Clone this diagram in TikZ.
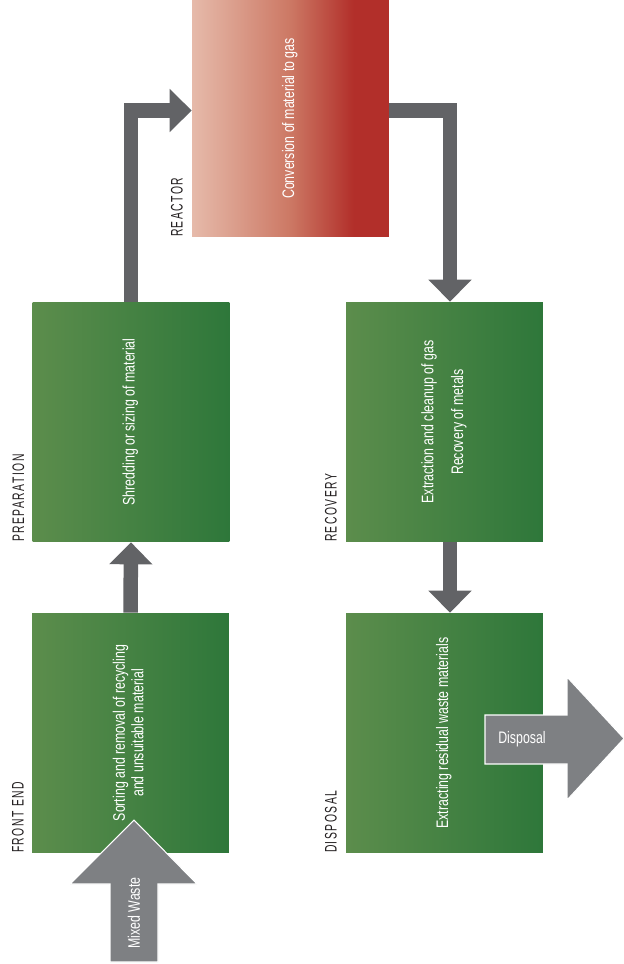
\documentclass[tikz,border=0pt]{standalone}
\usepackage{fontspec}
\usepackage{graphicx}
\usetikzlibrary{arrows.meta}
\newfontfamily\boxfont[FakeStretch=0.74]{Liberation Sans}
\newfontfamily\stagefont[FakeStretch=0.62,LetterSpace=9]{Liberation Sans}
\definecolor{greenlight}{RGB}{92,141,76}
\definecolor{greendark}{RGB}{46,119,58}
\definecolor{reactorlight}{RGB}{230,186,170}
\definecolor{reactormid}{RGB}{204,120,100}
\definecolor{reactordark}{RGB}{178,47,42}
\definecolor{flowgray}{RGB}{98,99,102}
\definecolor{biggray}{RGB}{126,128,131}
\definecolor{labelgray}{RGB}{35,31,32}
\pgfdeclarehorizontalshading{reactorshading}{100bp}{color(0bp)=(reactorlight); color(25bp)=(reactorlight); color(50bp)=(reactormid); color(66bp)=(reactordark); color(100bp)=(reactordark)}
\newcommand{\vtext}[1]{\rotatebox{90}{\begin{tabular}{@{}c@{}}#1\end{tabular}}}
\tikzset{
  stagebox/.style={minimum width=3.94cm, minimum height=4.8cm, inner sep=0pt, text=white, font=\boxfont\fontsize{9.5}{10.5}\selectfont},
  greenbox/.style={stagebox, left color=greenlight, right color=greendark},
  redbox/.style={stagebox, shading=reactorshading, shading angle=0, minimum height=4.74cm},
  stagename/.style={rotate=90, anchor=south west, inner sep=0pt, text=labelgray, font=\stagefont\fontsize{9.5}{10}\selectfont},
  flow/.style={draw=flowgray, line width=0.29cm, -{Triangle[width=0.84cm,length=0.44cm]}},
  bigarrow/.style={fill=biggray, draw=white, line width=0.6pt},
  arrowtext/.style={inner sep=0pt, text=white, font=\boxfont\fontsize{9.5}{10}\selectfont}
}
\begin{document}
\begin{tikzpicture}[x=0.02cm, y=-0.02cm]
\useasboundingbox (0,0) rectangle (624,964);
\node[greenbox] (frontend) at (130.5,733) {\vtext{Sorting and removal of recycling\\and unsuitable material}};
\node[greenbox] (preparation) at (131,422) {\vtext{Shredding or sizing of material}};
\node[redbox] (reactor) at (290.5,118.5) {\vtext{Conversion of material to gas}};
\node[greenbox] (recovery) at (444.5,422) {\vtext{Extraction and cleanup of gas\\[6.5pt]Recovery of metals}};
\node[greenbox] (disposal) at (444.5,733) {\vtext{Extracting residual waste materials}};
\node[stagename] (frontendname) at ([xshift=-0.15cm]frontend.south west) {FRONT END};
\node[stagename] (preparationname) at ([xshift=-0.15cm]preparation.south west) {PREPARATION};
\node[stagename] (reactorname) at ([xshift=-0.17cm]reactor.south west) {REACTOR};
\node[stagename] (recoveryname) at ([xshift=-0.17cm]recovery.south west) {RECOVERY};
\node[stagename] (disposalname) at ([xshift=-0.17cm]disposal.south west) {DISPOSAL};
\draw[flow] (frontend.north) -- (preparation.south);
\draw[flow] (preparation.north) |- ([yshift=0.16cm]reactor.west);
\draw[flow] ([yshift=0.16cm]reactor.east) -| ([xshift=0.11cm]recovery.north);
\draw[flow] ([xshift=0.11cm]recovery.south) -- ([xshift=0.11cm]disposal.north);
\filldraw[bigarrow] (110,962) -- (110,884) -- (70,884) -- (134,820) -- (197,884) -- (158,884) -- (158,962) -- cycle;
\node[arrowtext, rotate=90] (mixedwaste) at (134,913) {Mixed Waste};
\filldraw[bigarrow] (485,715) -- (567,715) -- (567,677) -- (624,738.5) -- (567,800) -- (567,764) -- (485,764) -- cycle;
\node[arrowtext] (disposalout) at (522,739.5) {Disposal};
\end{tikzpicture}
\end{document}
